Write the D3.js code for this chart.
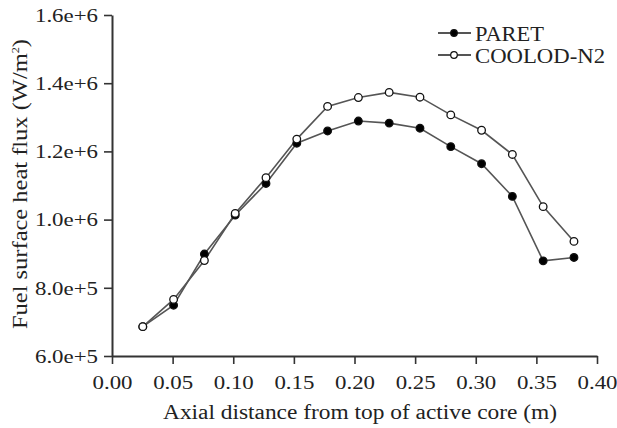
<!DOCTYPE html>
<html>
<head>
<meta charset="utf-8">
<script src="https://cdn.jsdelivr.net/npm/d3@7"></script>
<style>
  body { margin: 0; background: #fff; }
  svg { display: block; }
  text { font-family: "Liberation Serif", "Times New Roman", serif; fill: #222; }
</style>
</head>
<body>
<svg id="chart" width="617" height="428"></svg>
<script>
// axial positions (m) - one inch steps
let distance = [0.0254, 0.0508, 0.0762, 0.1016, 0.127, 0.1524, 0.1778, 0.2032,
                0.2286, 0.254, 0.2794, 0.3048, 0.3302, 0.3556, 0.381];

let paret = [6.86e5, 7.49e5, 8.99e5, 1.013e6, 1.106e6, 1.224e6, 1.26e6, 1.289e6,
             1.283e6, 1.268e6, 1.214e6, 1.164e6, 1.068e6, 8.79e5, 8.89e5];

let coolod = [6.86e5, 7.66e5, 8.80e5, 1.018e6, 1.123e6, 1.236e6, 1.332e6, 1.358e6,
              1.373e6, 1.359e6, 1.307e6, 1.262e6, 1.191e6, 1.038e6, 9.36e5];

let seriesNames = ["PARET", "COOLOD-N2"];
let xTicks = [0, 0.05, 0.1, 0.15, 0.2, 0.25, 0.3, 0.35, 0.4];
let yTicks = [6e5, 8e5, 1.0e6, 1.2e6, 1.4e6, 1.6e6];
let yTickLabels = ["6.0e+5", "8.0e+5", "1.0e+6", "1.2e+6", "1.4e+6", "1.6e+6"];

// layout
let margin = {top: 15, right: 20, bottom: 72, left: 112};
let width = 617, height = 428;
let stretch = 1.27; // the source font is drawn wide

let svg = d3.select('#chart');

let xScale = d3.scaleLinear()
    .domain([0, 0.4])
    .range([margin.left, width - margin.right]);

let yScale = d3.scaleLinear()
    .domain([6e5, 1.6e6])
    .range([height - margin.bottom, margin.top]);

// axes
let xAxis = svg.append('g')
    .attr('transform', 'translate(0,' + (height - margin.bottom) + ')')
    .call(d3.axisBottom(xScale)
        .tickValues(xTicks)
        .tickSize(8)
        .tickSizeOuter(0)
        .tickFormat(d3.format('.2f')));

let yAxis = svg.append('g')
    .attr('transform', 'translate(' + margin.left + ',0)')
    .call(d3.axisLeft(yScale)
        .tickValues(yTicks)
        .tickSize(8)
        .tickSizeOuter(0)
        .tickFormat((d, i) => yTickLabels[i]));

[xAxis, yAxis].forEach(ax => {
    ax.select('.domain').attr('stroke', '#333').attr('stroke-width', 2);
    ax.selectAll('.tick line').attr('stroke', '#333').attr('stroke-width', 1.6);
    ax.selectAll('.tick text')
        .attr('font-family', '"Liberation Serif", serif')
        .attr('font-size', 18)
        .attr('fill', '#222');
});

xAxis.selectAll('.tick text')
    .attr('y', 33)
    .attr('dy', 0)
    .attr('transform', 'scale(' + stretch + ',1)');

yAxis.selectAll('.tick text')
    .attr('x', -14 / stretch)
    .attr('dy', '0.35em')
    .attr('transform', 'scale(' + stretch + ',1)');

// axis titles
svg.append('text')
    .attr('x', 360)
    .attr('y', 419)
    .attr('text-anchor', 'middle')
    .attr('font-size', 20)
    .attr('textLength', 394)
    .attr('lengthAdjust', 'spacingAndGlyphs')
    .text('Axial distance from top of active core (m)');

let yTitle = svg.append('text')
    .attr('transform', 'translate(27,' + 184 + ') rotate(-90)')
    .attr('text-anchor', 'middle')
    .attr('font-size', 20)
    .attr('textLength', 290)
    .attr('lengthAdjust', 'spacingAndGlyphs');
yTitle.append('tspan').text('Fuel surface heat flux (W/m');
yTitle.append('tspan').attr('font-size', 10).attr('dy', -8).text('2');
yTitle.append('tspan').attr('dy', 8).text(')');

// lines and markers
let series = [
    {name: seriesNames[0], values: paret, fill: '#000'},
    {name: seriesNames[1], values: coolod, fill: '#fff'}
];

let line = d3.line()
    .x((d, i) => xScale(distance[i]))
    .y(d => yScale(d));

series.forEach(s => {
    svg.append('path')
        .datum(s.values)
        .attr('fill', 'none')
        .attr('stroke', '#555')
        .attr('stroke-width', 1.6)
        .attr('d', line);
});

series.forEach(s => {
    svg.append('g').selectAll('circle')
        .data(s.values)
        .enter()
        .append('circle')
        .attr('cx', (d, i) => xScale(distance[i]))
        .attr('cy', d => yScale(d))
        .attr('r', 3.8)
        .attr('fill', s.fill)
        .attr('stroke', '#111')
        .attr('stroke-width', 1.3);
});

// legend
let legend = svg.append('g').attr('transform', 'translate(438,33)');
series.forEach((s, i) => {
    let row = legend.append('g').attr('transform', 'translate(0,' + (i * 22) + ')');
    row.append('line')
        .attr('x1', 0).attr('x2', 33)
        .attr('stroke', '#555').attr('stroke-width', 2.2);
    row.append('circle')
        .attr('cx', 16).attr('r', 3.3)
        .attr('fill', s.fill).attr('stroke', '#111').attr('stroke-width', 1.2);
    row.append('text')
        .attr('x', 37)
        .attr('y', 8)
        .attr('font-size', 20)
        .attr('textLength', i === 0 ? 69 : 130)
        .attr('lengthAdjust', 'spacingAndGlyphs')
        .text(s.name);
});
</script>
</body>
</html>
